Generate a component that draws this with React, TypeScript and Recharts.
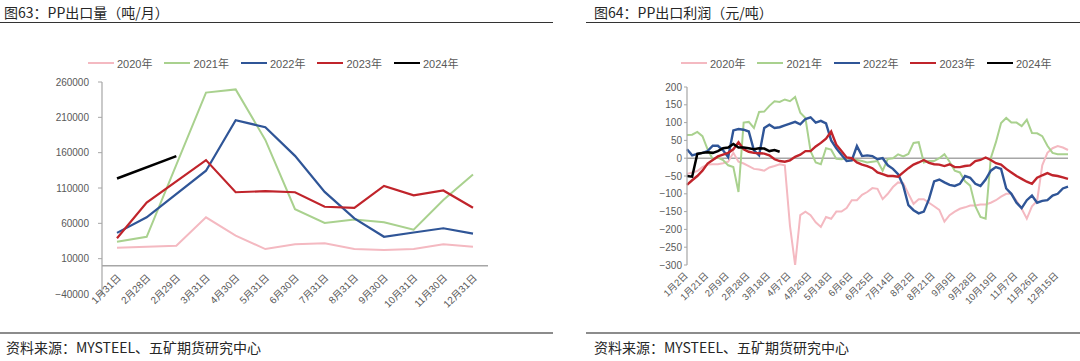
import React from 'react';
import { LineChart, Line, XAxis, YAxis, ReferenceLine, Legend } from 'recharts';

// ---------- Left chart: PP export volume (tons / month) ----------
const months = ['1月31日', '2月28日', '2月29日', '3月31日', '4月30日', '5月31日', '6月30日', '7月31日', '8月31日', '9月30日', '10月31日', '11月30日', '12月31日'];
const vol2020 = [25500, null, 28300, 68500, 42500, 23600, 30300, 31700, 23600, 22200, 23600, 30300, 26900];
const vol2021 = [34000, 41000, null, 245000, 249500, 178000, 80000, 60500, 65500, 61500, 51000, 93000, 129000];
const vol2022 = [46500, 68500, null, 134500, 206000, 196000, 155500, 104500, 67000, 41000, 47000, 53000, 45500];
const vol2023 = [39000, 89500, null, 149500, 104000, 105500, 104000, 83500, 82000, 113000, 99500, 106500, 82000];
const vol2024 = [123500, null, 155000];
const volTicks = [-40000, 10000, 60000, 110000, 160000, 210000, 260000];

// ---------- Right chart: PP export profit (yuan / ton) ----------
const dates = [
  '1月2日', '1月7日', '1月12日', '1月16日', '1月21日', '1月26日', '1月31日', '2月4日',
  '2月9日', '2月14日', '2月19日', '2月23日', '2月28日', '3月4日', '3月9日', '3月13日',
  '3月18日', '3月23日', '3月28日', '4月2日', '4月7日', '4月12日', '4月17日', '4月21日',
  '4月26日', '5月2日', '5月7日', '5月12日', '5月18日', '5月23日', '5月28日', '6月1日',
  '6月6日', '6月11日', '6月16日', '6月20日', '6月25日', '6月30日', '7月5日', '7月9日',
  '7月14日', '7月19日', '7月24日', '7月28日', '8月2日', '8月7日', '8月12日', '8月16日',
  '8月21日', '8月26日', '8月31日', '9月4日', '9月9日', '9月14日', '9月19日', '9月23日',
  '9月28日', '10月4日', '10月9日', '10月14日', '10月19日', '10月24日', '10月29日', '11月2日',
  '11月7日', '11月12日', '11月17日', '11月21日', '11月26日', '12月1日', '12月6日', '12月10日',
  '12月15日', '12月20日', '12月25日',
];
const prof2020 = [
  -44, -40, -36, -25, -18, -17, -17, -14, -10, 15, -10, -15, -22, -30, -32, -35,
  -26, -22, -17, -20, -190, -300, -160, -150, -160, -180, -193, -165, -170, -150, -150, -140,
  -118, -118, -103, -95, -84, -86, -115, -100, -81, -68, -70, -100, -128, -115, -115, -125,
  -135, -145, -178, -160, -150, -142, -138, -133, -133, -130, -130, -125, -118, -108, -100, -100,
  -120, -142, -170, -135, -120, -20, 15, 28, 34, 30, 23,
];
const prof2021 = [
  65, 66, 74, 62, 25, -3, 2, -5, -20, -25, -95, 100, 102, 85, 130, 131,
  147, 160, 158, 165, 160, 172, 128, 113, 20, -12, -17, 28, 24, -2, -3, 0,
  -2, -5, -8, -12, -10, -8, -35, -2, 0, 11, 5, 12, 43, 45, -12, -8,
  -8, 0, 11, -10, -35, -40, -65, -77, -135, -165, -170, 0, 45, 99, 113, 100,
  100, 90, 108, 71, 70, 62, 35, 15, 11, 11, 11,
];
const prof2022 = [
  25, 8, 12, 15, 20, 35, 35, 22, 3, 78, 82, 80, 75, 22, 8, 85,
  94, 85, 87, 92, 97, 102, 95, 110, 115, 100, 105, 98, 50, 28, 10, -8,
  -6, 34, 6, 8, 6, -3, 0, -20, -30, -45, -77, -132, -146, -155, -150, -115,
  -65, -60, -68, -75, -78, -72, -50, -55, -72, -78, -60, -35, -25, -30, -85, -100,
  -125, -140, -118, -105, -125, -120, -118, -105, -100, -85, -80,
];
const prof2023 = [
  -75, -62, -50, -35, -15, -5, 5, 10, 15, 25, 45, 25, 18, 15, 14, 13,
  8, -3, -8, -10, -6, 4, 10, 20, 20, 33, 43, 55, 75, 38, 20, 2,
  0, -12, -18, -22, -28, -40, -45, -50, -50, -52, -40, -28, -18, -12, -5, -13,
  -17, -18, -22, -17, -25, -25, -22, -20, -8, -5, 2, -5, -14, -18, -30, -40,
  -50, -58, -66, -72, -55, -48, -42, -48, -50, -54, -58,
];
const prof2024 = [-50, -52, 12, 15, 17, 15, 20, 28, 30, 40, 30, 30, 28, 25, 28, 27, 20, 23, 18];
const profTicks = [-300, -250, -200, -150, -100, -50, 0, 50, 100, 150, 200];

const seriesNames = ['2020年', '2021年', '2022年', '2023年', '2024年'];
const seriesColors = ['#F4B9C1', '#A9D18E', '#2F5597', '#C0242B', '#000000'];
const leftWidths = [2, 2, 2.2, 2.2, 2.5];
const rightWidths = [2, 2, 2.4, 2.4, 2.5];

const volData = months.map((m, i) => ({
  month: m,
  s0: vol2020[i] ?? null,
  s1: vol2021[i] ?? null,
  s2: vol2022[i] ?? null,
  s3: vol2023[i] ?? null,
  s4: vol2024[i] ?? null,
}));

const profData = dates.map((d, i) => ({
  date: d,
  s0: prof2020[i] ?? null,
  s1: prof2021[i] ?? null,
  s2: prof2022[i] ?? null,
  s3: prof2023[i] ?? null,
  s4: prof2024[i] ?? null,
}));

const FONT = 'Liberation Sans, Arial, "Noto Sans CJK SC", sans-serif';
const CJK = '"Noto Sans CJK SC", "Liberation Sans", sans-serif';
const AXIS = '#A6A6A6';
const LABEL = '#595959';

const fmtMinus = (v: number) => (v < 0 ? `\u2212${Math.abs(v)}` : `${v}`);

const makeTick = (dx: number, dy: number, size: number) => (props: any) => {
  const { x, y, payload } = props;
  return (
    <g transform={`translate(${x + dx},${y + dy})`}>
      <text x={0} y={0} dy="0.35em" textAnchor="end" transform="rotate(-45)" fontSize={size} fill={LABEL} fontFamily={FONT}>
        {payload.value}
      </text>
    </g>
  );
};

const LegendContent = (props: any) => {
  const payload = props.payload || [];
  return (
    <div style={{ display: 'flex', alignItems: 'center', fontSize: 11, color: LABEL, fontFamily: FONT, whiteSpace: 'nowrap' }}>
      {payload.map((p: any) => (
        <div key={p.value} style={{ display: 'flex', alignItems: 'center', marginRight: 12 }}>
          <span style={{ display: 'inline-block', width: 26, height: 0, borderTop: `2.5px solid ${p.color}`, marginRight: 3 }} />
          <span>{p.value}</span>
        </div>
      ))}
    </div>
  );
};

const renderLines = (widths: number[]) =>
  seriesNames.map((name, k) => (
    <Line
      key={name}
      type="linear"
      dataKey={`s${k}`}
      name={name}
      stroke={seriesColors[k]}
      strokeWidth={widths[k]}
      dot={false}
      activeDot={false}
      connectNulls
      isAnimationActive={false}
    />
  ));

const Title = ({ left, text }: { left: number; text: string }) => (
  <div style={{ position: 'absolute', left, top: 2, fontSize: 14, lineHeight: '20px', fontFamily: CJK, color: '#262626' }}>{text}</div>
);

const Footer = ({ left, text }: { left: number; text: string }) => (
  <div style={{ position: 'absolute', left, top: 337, fontSize: 14, lineHeight: '20px', fontFamily: CJK, color: '#262626' }}>{text}</div>
);

export default function App() {
  return (
    <div style={{ position: 'absolute', left: 0, top: 0, width: 1080, height: 361, background: '#fff', overflow: 'hidden' }}>
      <Title left={4} text="图63：PP出口量（吨/月）" />
      <Title left={594} text="图64：PP出口利润（元/吨）" />
      <div style={{ position: 'absolute', left: 0, top: 22, width: 553, height: 1, background: '#333' }} />
      <div style={{ position: 'absolute', left: 586, top: 22, width: 494, height: 1, background: '#333' }} />

      <div style={{ position: 'absolute', left: 0, top: 0 }}>
        <LineChart width={540} height={361} data={volData} margin={{ top: 82, right: 52, bottom: 0, left: 0 }}>
          <Legend
            verticalAlign="middle"
            align="center"
            layout="horizontal"
            content={<LegendContent />}
            wrapperStyle={{ left: 88, top: 55, width: 420 }}
          />
          <ReferenceLine y={0} stroke={AXIS} strokeWidth={1.5} />
          <XAxis
            dataKey="month"
            interval={0}
            padding={{ left: 15, right: 15 }}
            axisLine={false}
            tickLine={false}
            tickSize={0}
            tickMargin={0}
            height={67}
            tick={makeTick(2, -18, 10)}
          />
          <YAxis
            width={102}
            domain={[-40000, 260000]}
            ticks={volTicks}
            interval={0}
            axisLine={{ stroke: AXIS, strokeWidth: 1.2 }}
            tickLine={{ stroke: AXIS }}
            tickSize={4}
            tickMargin={9}
            tickFormatter={fmtMinus}
            tick={{ fontSize: 10, fill: LABEL, fontFamily: FONT }}
          />
          {renderLines(leftWidths)}
        </LineChart>
      </div>

      <div style={{ position: 'absolute', left: 585, top: 0 }}>
        <LineChart width={495} height={361} data={profData} margin={{ top: 87, right: 12, bottom: 0, left: 0 }}>
          <Legend
            verticalAlign="middle"
            align="center"
            layout="horizontal"
            content={<LegendContent />}
            wrapperStyle={{ left: 96, top: 55, width: 420 }}
          />
          <ReferenceLine y={0} stroke={AXIS} strokeWidth={1.5} />
          <XAxis
            dataKey="date"
            interval={3}
            axisLine={false}
            tickLine={false}
            tickSize={0}
            tickMargin={0}
            height={96}
            tick={makeTick(-1, 9, 9.5)}
          />
          <YAxis
            width={102}
            domain={[-300, 200]}
            ticks={profTicks}
            interval={0}
            allowDataOverflow
            axisLine={{ stroke: AXIS, strokeWidth: 1.2 }}
            tickLine={{ stroke: AXIS }}
            tickSize={3}
            tickMargin={2}
            tickFormatter={fmtMinus}
            tick={{ fontSize: 10, fill: LABEL, fontFamily: FONT }}
          />
          {renderLines(rightWidths)}
        </LineChart>
      </div>

      <div style={{ position: 'absolute', left: 0, top: 332, width: 553, height: 2, background: '#8C8C8C' }} />
      <div style={{ position: 'absolute', left: 586, top: 332, width: 494, height: 2, background: '#8C8C8C' }} />
      <Footer left={6} text="资料来源：MYSTEEL、五矿期货研究中心" />
      <Footer left={594} text="资料来源：MYSTEEL、五矿期货研究中心" />
    </div>
  );
}
